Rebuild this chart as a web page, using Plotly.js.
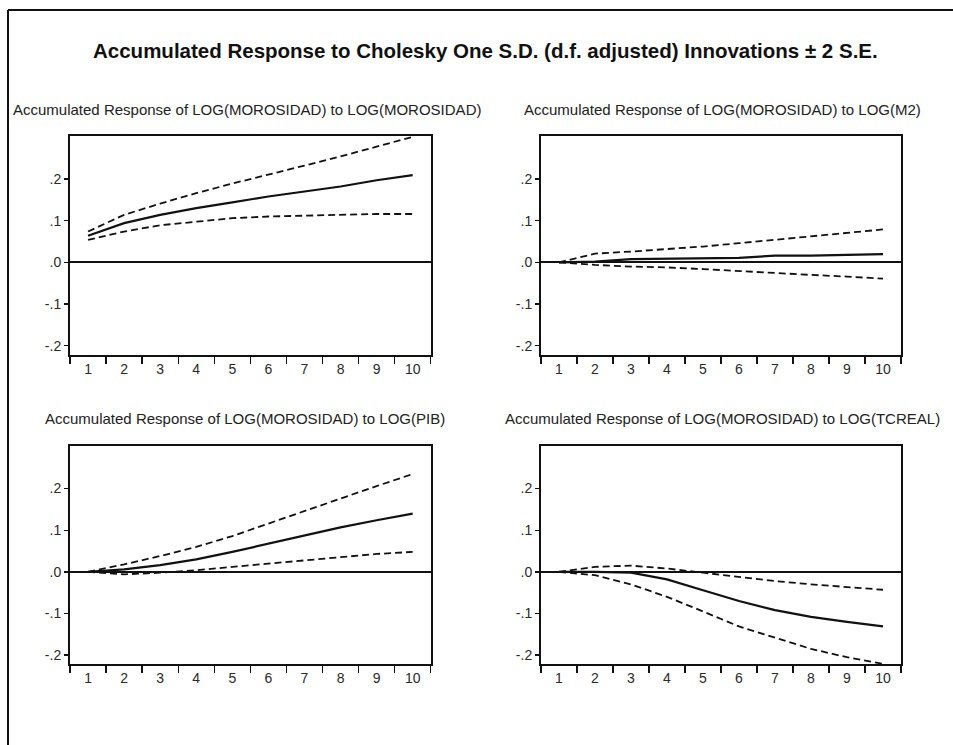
<!DOCTYPE html>
<html>
<head>
<meta charset="utf-8">
<script src="https://cdn.plot.ly/plotly-3.0.1.min.js"></script>
<style>html,body{margin:0;padding:0;background:#fff;}#chart{width:953px;height:745px;}</style>
</head>
<body>
<div id="chart"></div>
<script>
const periods = ['1','2','3','4','5','6','7','8','9','10'];

const yTickVals = [-0.2, -0.1, 0, 0.1, 0.2];
const yTickText = ['-.2', '-.1', '.0', '.1', '.2'];

const mainTitle = 'Accumulated Response to Cholesky One S.D. (d.f. adjusted) Innovations ± 2 S.E.';
const panelTitles = [
  'Accumulated Response of LOG(MOROSIDAD) to LOG(MOROSIDAD)',
  'Accumulated Response of LOG(MOROSIDAD) to LOG(M2)',
  'Accumulated Response of LOG(MOROSIDAD) to LOG(PIB)',
  'Accumulated Response of LOG(MOROSIDAD) to LOG(TCREAL)'
];

// Panel 1: MOROSIDAD -> MOROSIDAD
const moroResp  = [0.064, 0.094, 0.114, 0.130, 0.144, 0.158, 0.170, 0.182, 0.197, 0.209];
const moroUpper = [0.074, 0.114, 0.141, 0.166, 0.189, 0.210, 0.232, 0.254, 0.277, 0.301];
const moroLower = [0.054, 0.074, 0.089, 0.098, 0.106, 0.110, 0.112, 0.114, 0.116, 0.116];

// Panel 2: M2 -> MOROSIDAD
const m2Resp  = [0.000, 0.002, 0.008, 0.009, 0.009, 0.011, 0.016, 0.016, 0.018, 0.020];
const m2Upper = [0.000, 0.021, 0.026, 0.032, 0.038, 0.046, 0.054, 0.062, 0.070, 0.079];
const m2Lower = [0.000, -0.006, -0.010, -0.012, -0.016, -0.021, -0.026, -0.030, -0.034, -0.039];

// Panel 3: PIB -> MOROSIDAD
const pibResp  = [0.000, 0.006, 0.016, 0.030, 0.048, 0.068, 0.088, 0.107, 0.124, 0.140];
const pibUpper = [0.000, 0.018, 0.038, 0.060, 0.086, 0.116, 0.147, 0.177, 0.206, 0.235];
const pibLower = [0.000, -0.006, -0.002, 0.004, 0.012, 0.020, 0.028, 0.036, 0.043, 0.048];

// Panel 4: TCREAL -> MOROSIDAD
const tcResp  = [0.000, 0.000, -0.002, -0.018, -0.044, -0.070, -0.092, -0.108, -0.120, -0.131];
const tcUpper = [0.000, 0.012, 0.015, 0.008, -0.002, -0.012, -0.022, -0.030, -0.036, -0.043];
const tcLower = [0.000, -0.008, -0.030, -0.060, -0.095, -0.131, -0.158, -0.185, -0.205, -0.221];

const panels = [
  [moroResp, moroUpper, moroLower],
  [m2Resp, m2Upper, m2Lower],
  [pibResp, pibUpper, pibLower],
  [tcResp, tcUpper, tcLower]
];

const W = 953, H = 745;
// plot boxes in pixels: [left, right, top, bottom]
const boxes = [
  [70, 430.7, 136, 355],
  [541, 901, 136, 355],
  [70, 430.7, 445.7, 664.3],
  [541, 901, 445.7, 664.3]
];
const titlePos = [[247, 109], [722, 109], [245, 418], [722, 418]];

const traces = [];
const layout = {
  width: W, height: H,
  margin: {l: 0, r: 0, t: 0, b: 0},
  paper_bgcolor: '#ffffff',
  plot_bgcolor: '#ffffff',
  showlegend: false,
  font: {family: 'Liberation Sans, Arial, sans-serif', color: '#222', size: 14},
  annotations: [],
  shapes: []
};

panels.forEach((p, i) => {
  const n = i + 1;
  const xa = n === 1 ? 'x' : 'x' + n;
  const ya = n === 1 ? 'y' : 'y' + n;
  const styles = [
    {color: '#111', width: 2.2},
    {color: '#111', width: 1.8, dash: '7px,4px'},
    {color: '#111', width: 1.8, dash: '7px,4px'}
  ];
  p.forEach((vals, k) => {
    traces.push({
      x: periods, y: vals, type: 'scatter', mode: 'lines',
      xaxis: xa, yaxis: ya, line: styles[k], hoverinfo: 'skip'
    });
  });
  const b = boxes[i];
  layout['xaxis' + (n === 1 ? '' : n)] = {
    domain: [b[0] / W, b[1] / W],
    anchor: ya,
    type: 'category',
    range: [-0.5, 9.5],
    tickson: 'boundaries',
    ticks: 'outside', ticklen: 7, tickwidth: 1.3, tickcolor: '#111',
    showline: true, mirror: true, linecolor: '#111', linewidth: 2,
    showgrid: false, zeroline: false,
    tickfont: {size: 14, color: '#2a2a2a'},
    fixedrange: true
  };
  layout['yaxis' + (n === 1 ? '' : n)] = {
    domain: [1 - b[3] / H, 1 - b[2] / H],
    anchor: xa,
    range: [-0.222, 0.303],
    tickvals: yTickVals, ticktext: yTickText,
    ticks: 'outside', ticklen: 4, tickwidth: 1.3, tickcolor: '#111',
    showline: true, mirror: true, linecolor: '#111', linewidth: 2,
    showgrid: false,
    zeroline: true, zerolinecolor: '#111', zerolinewidth: 2,
    tickfont: {size: 14, color: '#2a2a2a'},
    fixedrange: true
  };
  layout.annotations.push({
    text: panelTitles[i], xref: 'paper', yref: 'paper',
    x: titlePos[i][0] / W, y: 1 - titlePos[i][1] / H,
    xanchor: 'center', yanchor: 'middle', showarrow: false,
    font: {size: 15, color: '#222', family: 'Liberation Sans, Arial, sans-serif'}
  });
});

layout.annotations.push({
  text: '<b>' + mainTitle + '</b>', xref: 'paper', yref: 'paper',
  x: 485 / W, y: 1 - 50 / H, xanchor: 'center', yanchor: 'middle', showarrow: false,
  font: {size: 20.5, color: '#111', family: 'Liberation Sans, Arial, sans-serif'}
});

layout.shapes.push({type: 'line', xref: 'paper', yref: 'paper', x0: 8 / W, x1: 1.01, y0: 1 - 10 / H, y1: 1 - 10 / H, line: {color: '#111', width: 2}});
layout.shapes.push({type: 'line', xref: 'paper', yref: 'paper', x0: 8 / W, x1: 8 / W, y0: 1 - 10 / H, y1: -0.01, line: {color: '#111', width: 2}});

Plotly.newPlot('chart', traces, layout, {displayModeBar: false, staticPlot: true});
</script>
</body>
</html>
